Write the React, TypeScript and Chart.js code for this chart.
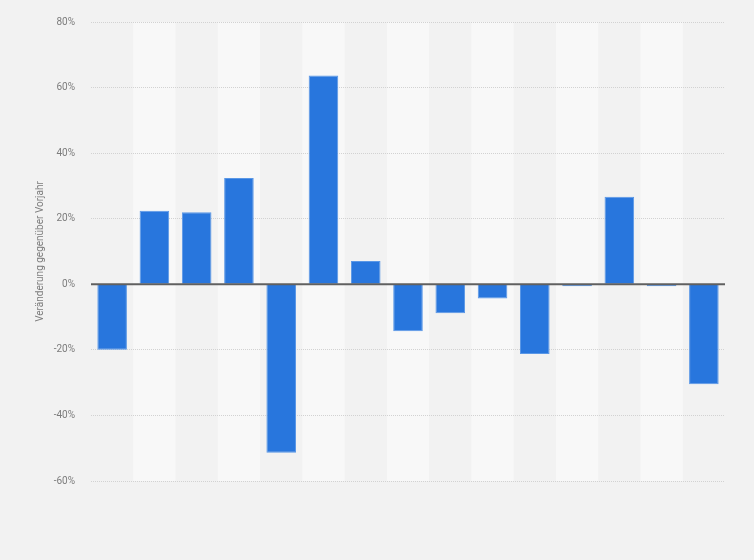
import React, { useEffect, useRef } from "react";
import { Chart, registerables } from "chart.js";

Chart.register(...registerables);

const categories: string[] = ["1", "2", "3", "4", "5", "6", "7", "8", "9", "10", "11", "12", "13", "14", "15"];
const changeValues: number[] = [-20.0, 22.4, 22.0, 32.4, -51.4, 63.7, 7.1, -14.3, -8.8, -4.3, -21.3, -0.6, 26.7, -0.6, -30.5];
const yTicks: number[] = [-60, -40, -20, 0, 20, 40, 60, 80];
const yAxisTitle = "Veränderung gegenüber Vorjahr";

const BG = "#f2f2f2";
const BAND = "#f8f8f8";
const TEXT = "#7c7c7c";

const bandsPlugin = {
  id: "bands",
  beforeDraw(chart: any) {
    const { ctx, chartArea, scales } = chart;
    ctx.save();
    ctx.fillStyle = BG;
    ctx.fillRect(0, 0, chart.width, chart.height);
    const x = scales.x;
    const n = categories.length;
    const w = (chartArea.right - chartArea.left) / n;
    for (let i = 0; i < n; i++) {
      if (i % 2 === 1) {
        const cx = x.getPixelForValue(i);
        ctx.fillStyle = BAND;
        ctx.fillRect(cx - w / 2, chartArea.top, w, chartArea.bottom - chartArea.top);
      }
    }
    ctx.restore();
  },
  afterDatasetsDraw(chart: any) {
    const { ctx, chartArea, scales } = chart;
    const y0 = scales.y.getPixelForValue(0);
    ctx.save();
    ctx.strokeStyle = "#606060";
    ctx.lineWidth = 2;
    ctx.beginPath();
    ctx.moveTo(chartArea.left, y0);
    ctx.lineTo(chartArea.right, y0);
    ctx.stroke();
    ctx.restore();
  },
};

export default function App() {
  const ref = useRef<HTMLCanvasElement | null>(null);
  useEffect(() => {
    document.body.style.margin = "0";
    document.body.style.background = BG;
    const canvas = ref.current;
    if (!canvas) return;
    const chart = new Chart(canvas, {
      type: "bar",
      data: {
        labels: categories,
        datasets: [
          {
            data: changeValues,
            backgroundColor: "#2876dd",
            borderColor: "#5a97e6",
            borderWidth: 1,
            categoryPercentage: 1,
            barPercentage: 0.7,
          },
        ],
      },
      options: {
        animation: false,
        responsive: false,
        devicePixelRatio: 1,
        layout: { padding: { left: 0, right: 29, top: 20, bottom: 79 } },
        plugins: {
          legend: { display: false },
          tooltip: { enabled: false },
        },
        scales: {
          x: { display: false },
          y: {
            min: yTicks[0],
            max: yTicks[yTicks.length - 1],
            afterBuildTicks(scale: any) {
              scale.ticks = yTicks.map((v) => ({ value: v }));
            },
            afterFit(scale: any) {
              scale.width = 91;
            },
            ticks: {
              padding: 16,
              color: TEXT,
              font: { family: "Roboto", size: 10 },
              callback: (v: any) => `${v}%`,
            },
            grid: {
              drawTicks: false,
              color: (c: any) => (c.tick && c.tick.value === 0 ? "rgba(0,0,0,0)" : "#d2d2d2"),
              lineWidth: 1,
            },
            border: { display: false, dash: [1, 1] },
            title: {
              display: true,
              text: yAxisTitle,
              color: TEXT,
              font: { family: "Roboto", size: 10 },
              padding: { top: 34, bottom: 0 },
            },
          },
        },
      },
      plugins: [bandsPlugin],
    });
    return () => chart.destroy();
  }, []);
  return (
    <div style={{ width: 754, height: 560 }}>
      <canvas ref={ref} width={754} height={560} style={{ display: "block" }} />
    </div>
  );
}
